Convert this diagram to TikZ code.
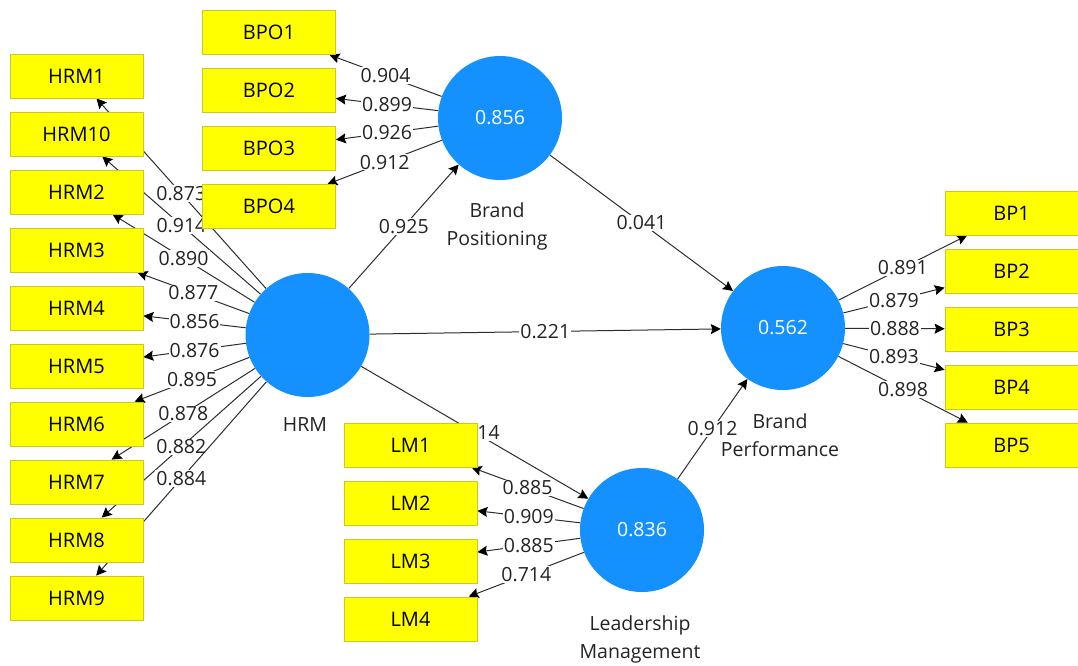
\documentclass[tikz,border=0pt]{standalone}
\usepackage{fontspec}
\setmainfont{Open Sans}
\usetikzlibrary{arrows.meta,positioning,backgrounds}
\definecolor{lvblue}{RGB}{20,145,255}
\definecolor{mvyellow}{RGB}{255,255,0}
\definecolor{mvborder}{RGB}{200,200,40}
\definecolor{pathgray}{RGB}{45,45,45}
\definecolor{txtgray}{RGB}{35,35,35}

\tikzset{
  latent/.style={circle,fill=lvblue,minimum size=124pt,inner sep=0pt,
    text=white,font=\fontsize{19.5}{22}\selectfont},
  lvname/.style={align=center,text=txtgray,inner sep=0pt,
    font=\fontsize{19.5}{28}\selectfont},
  manifest/.style={rectangle,fill=mvyellow,draw=mvborder,line width=0.8pt,
    minimum width=133pt,minimum height=44pt,inner sep=0pt,
    font=\fontsize{20}{22}\selectfont},
  load/.style={draw=pathgray,line width=1pt,
    -{Stealth[length=10pt,width=10pt,inset=1.5pt,black]}},
  coef/.style={fill=white,inner sep=1pt,text=txtgray,
    font=\fontsize{19.5}{22}\selectfont}
}

\begin{document}
\begin{tikzpicture}[x=1pt,y=-1pt]
    \useasboundingbox (0,0) rectangle (1078,665);

    % Latent variables
    \node[latent] (hrm) at (307.5,335) {};
    \node[latent] (bpo) at (500,118) {0.856};
    \node[latent] (bp)  at (783,328) {0.562};
    \node[latent] (lm)  at (642,530) {0.836};

    \node[lvname] (hrmname) at (305,425) {HRM};
    \node[lvname] (bponame) at (497,226) {Brand\\Positioning};
    \node[lvname] (bpname)  at (780,435) {Brand\\Performance};
    \node[lvname] (lmname)  at (640,639) {Leadership\\Management};

    % HRM indicators
    \foreach \n/\w [count=\i from 0] in {1/0.873,10/0.914,2/0.890,3/0.877,4/0.856,
                                          5/0.876,6/0.895,7/0.878,8/0.882,9/0.884} {
        \node[manifest] (hrm\n) at (76.5,{76+58*\i}) {HRM\n};
        \begin{scope}[on background layer]
            \draw[load] (hrm) -- node[coef] {\w} (hrm\n);
        \end{scope}
    }

    % Brand positioning indicators
    \foreach \w [count=\i] in {0.904,0.899,0.926,0.912} {
        \node[manifest] (bpo\i) at (269,{32.5+58*(\i-1)}) {BPO\i};
        \begin{scope}[on background layer]
            \draw[load] (bpo) -- node[coef] {\w} (bpo\i);
        \end{scope}
    }

    % Leadership management indicators
    \foreach \w [count=\i] in {0.885,0.909,0.885,0.714} {
        \node[manifest] (lm\i) at (410.5,{445+58*(\i-1)}) {LM\i};
        \begin{scope}[on background layer]
            \draw[load] (lm) -- node[coef] {\w} (lm\i);
        \end{scope}
    }

    % Brand performance indicators
    \foreach \w [count=\i] in {0.891,0.879,0.888,0.893,0.898} {
        \node[manifest] (bp\i) at (1011.5,{213+58*(\i-1)}) {BP\i};
        \begin{scope}[on background layer]
            \draw[load] (bp) -- node[coef] {\w} (bp\i);
        \end{scope}
    }

    % Inner model
    \begin{scope}[on background layer]
        \draw[load] (hrm) -- node[coef] {0.925} (bpo);
        \draw[load] (hrm) -- node[coef] {0.221} (bp);
        \draw[load] (hrm) -- node[coef] {0.914} (lm);
        \draw[load] (bpo) -- node[coef] {0.041} (bp);
        \draw[load] (lm)  -- node[coef] {0.912} (bp);
    \end{scope}
\end{tikzpicture}
\end{document}
